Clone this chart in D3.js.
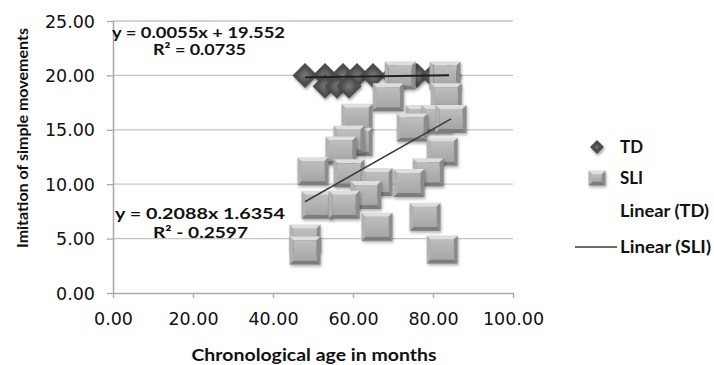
<!DOCTYPE html>
<html><head><meta charset="utf-8">
<script src="https://cdn.jsdelivr.net/npm/d3@7"></script>
<style>body{margin:0;background:#fff;}svg{display:block;}</style>
</head><body>
<svg id="c" width="714" height="365"></svg>
<script>
// ---- data ----
const tdX = [48, 53, 57.5, 61, 65, 70, 76, 80, 84, 53, 56, 59];
const tdY = [20, 20, 20, 20, 20, 20, 20, 20, 20, 19, 19, 19];
const sliX = [71.8, 83, 68.8, 83.3, 61, 77, 81, 84.5, 74.8, 61, 59, 57, 82.3, 50, 59, 78.8, 66, 74, 63.2, 51, 57.8, 66, 78, 48, 48, 82.3];
const sliY = [20, 20, 18, 18, 16.1, 16, 16, 16, 15.2, 13.9, 14.1, 13.1, 13, 11.2, 11, 11.1, 10.2, 10.1, 9, 8.1, 8.1, 6.1, 7, 5, 3.9, 4];
const tdFit = {slope: 0.0055, intercept: 19.552};
const sliFit = {slope: 0.2088, intercept: -1.6354};
const xTicks = [0, 20, 40, 60, 80, 100];
const yTicks = [0, 5, 10, 15, 20, 25];
const eqTD = ["y = 0.0055x + 19.552", "R\u00B2 = 0.0735"];
const eqSLI = ["y = 0.2088x  1.6354", "R\u00B2 - 0.2597"];
const legendLabels = ["TD", "SLI", "Linear (TD)", "Linear (SLI)"];
const xTitle = "Chronological age in months";
const yTitle = "Imitation of simple movements";

// ---- drawing ----
const svg = d3.select("#c");
svg.append("rect").attr("width",714).attr("height",365).attr("fill","#fff");
const x = d3.scaleLinear().domain([0,100]).range([113,513]);
const y = d3.scaleLinear().domain([0,25]).range([293,21]);
const defs = svg.append("defs");
const f = defs.append("filter").attr("id","sh").attr("x","-30%").attr("y","-30%").attr("width","160%").attr("height","160%");
f.append("feGaussianBlur").attr("stdDeviation",1.6);
const g1 = defs.append("linearGradient").attr("id","face").attr("x1",0).attr("y1",0).attr("x2",0).attr("y2",1);
g1.append("stop").attr("offset",0).attr("stop-color","#bebebe");
g1.append("stop").attr("offset",1).attr("stop-color","#a6a6a6");
const g2 = defs.append("radialGradient").attr("id","dface");
g2.append("stop").attr("offset",0).attr("stop-color","#7a7a7a");
g2.append("stop").attr("offset",1).attr("stop-color","#4a4a4a");

const fmt = d3.format(".2f");
// gridlines
svg.append("g").selectAll("line").data(yTicks.filter(d=>d>0)).join("line")
  .attr("x1",x(0)).attr("x2",x(100)).attr("y1",d=>y(d)).attr("y2",d=>y(d))
  .attr("stroke","#c4c4c4").attr("stroke-width",1.3);
// axes
const ax = svg.append("g").attr("transform",`translate(0,${y(0)})`)
  .call(d3.axisBottom(x).tickValues(xTicks).tickFormat(fmt).tickSizeOuter(0).tickSizeInner(5).tickPadding(15));
const ay = svg.append("g").attr("transform",`translate(${x(0)},0)`)
  .call(d3.axisLeft(y).tickValues(yTicks).tickFormat(fmt).tickSizeOuter(0).tickSizeInner(6).tickPadding(12));
[ax, ay].forEach(a=>{
  a.select(".domain").attr("stroke","#a8a8a8").attr("stroke-width",1.5);
  a.selectAll(".tick line").attr("stroke","#a8a8a8").attr("stroke-width",1.3);
  a.selectAll("text").attr("font-family","DejaVu Sans").attr("font-size",17.5).attr("fill","#111");
});
ay.selectAll("text").attr("dy","0.35em");

function diamond(g, s){
  g.append("path").attr("d",`M0,${-s}L${s},0L0,${s}L${-s},0Z`).attr("transform","translate(1,2)")
    .attr("fill","#000").attr("opacity",0.35).attr("filter","url(#sh)");
  g.append("path").attr("d",`M0,${-s}L${s},0L0,${s}L${-s},0Z`).attr("fill","#4d4d4d");
  const t = s-4;
  g.append("path").attr("d",`M0,${-t}L${t},0L0,${t}L${-t},0Z`).attr("fill","url(#dface)");
}
function square(g, w, h){
  const b = 4, hw=w/2, hh=h/2;
  g.append("rect").attr("x",-hw+1).attr("y",-hh+2).attr("width",w).attr("height",h)
    .attr("fill","#000").attr("opacity",0.3).attr("filter","url(#sh)");
  g.append("polygon").attr("points",`${-hw},${-hh} ${hw},${-hh} ${hw-b},${-hh+b} ${-hw+b},${-hh+b}`).attr("fill","#dedede");
  g.append("polygon").attr("points",`${-hw},${-hh} ${-hw+b},${-hh+b} ${-hw+b},${hh-b} ${-hw},${hh}`).attr("fill","#b2b2b2");
  g.append("polygon").attr("points",`${hw},${-hh} ${hw},${hh} ${hw-b},${hh-b} ${hw-b},${-hh+b}`).attr("fill","#8c8c8c");
  g.append("polygon").attr("points",`${-hw},${hh} ${hw},${hh} ${hw-b},${hh-b} ${-hw+b},${hh-b}`).attr("fill","#7c7c7c");
  g.append("rect").attr("x",-hw+b).attr("y",-hh+b).attr("width",w-2*b).attr("height",h-2*b).attr("fill","url(#face)");
}
const tdData = tdX.map((v,i)=>({x:v,y:tdY[i]}));
const sliData = sliX.map((v,i)=>({x:v,y:sliY[i]}));
svg.append("g").selectAll("g").data(tdData).join("g")
  .attr("transform",d=>`translate(${x(d.x)},${y(d.y)})`).each(function(){diamond(d3.select(this),12.5);});
svg.append("g").selectAll("g").data(sliData).join("g")
  .attr("transform",d=>`translate(${x(d.x)},${y(d.y)})`).each(function(){square(d3.select(this),31,28);});

// trendlines
function trend(data, fit, col, sw){
  const ext = d3.extent(data, d=>d.x);
  svg.append("line").attr("x1",x(ext[0])).attr("x2",x(ext[1]))
    .attr("y1",y(fit.slope*ext[0]+fit.intercept)).attr("y2",y(fit.slope*ext[1]+fit.intercept))
    .attr("stroke",col).attr("stroke-width",sw);
}
trend(tdData, tdFit, "#1e1e1e", 1.8);
trend(sliData, sliFit, "#3a3a3a", 1.5);

const BF = "Lato";
// equations
function label(txt, cx, by, len, size){
  svg.append("text").attr("x",cx).attr("y",by).attr("text-anchor","middle")
    .attr("font-family",BF).attr("font-weight","bold").attr("font-size",size)
    .attr("textLength",len).attr("lengthAdjust","spacingAndGlyphs").attr("fill","#111").text(txt);
}
label(eqTD[0], 198.5, 38, 173, 14.5);
label(eqTD[1], 199.5, 55, 93, 14.5);
label(eqSLI[0], 200, 219, 170, 14.5);
label(eqSLI[1], 200.5, 238, 95, 14.5);

// axis titles
svg.append("text").attr("x",314).attr("y",361).attr("text-anchor","middle")
  .attr("font-family",BF).attr("font-weight","bold").attr("font-size",17)
  .attr("textLength",245).attr("lengthAdjust","spacingAndGlyphs").attr("fill","#111").text(xTitle);
svg.append("text").attr("transform","translate(28,138) rotate(-90)").attr("text-anchor","middle")
  .attr("font-family",BF).attr("font-weight","bold").attr("font-size",16)
  .attr("textLength",220).attr("lengthAdjust","spacingAndGlyphs").attr("fill","#111").text(yTitle);

// legend
const lg = svg.append("g");
const ly = [147, 178, 211, 247];
diamond(lg.append("g").attr("transform",`translate(597,${ly[0]})`), 7);
square(lg.append("g").attr("transform",`translate(597,${ly[1]})`), 17, 15);
lg.append("line").attr("x1",575).attr("x2",617).attr("y1",ly[3]).attr("y2",ly[3]).attr("stroke","#3a3a3a").attr("stroke-width",1.5);
const lw = [23, 23, 89, 91];
legendLabels.forEach((t,i)=>{
  lg.append("text").attr("x",620).attr("y",ly[i]).attr("dy","0.35em")
    .attr("font-family",BF).attr("font-weight","bold").attr("font-size",16.5)
    .attr("textLength",lw[i]).attr("lengthAdjust","spacingAndGlyphs").attr("fill","#111").text(t);
});
</script>
</body></html>
